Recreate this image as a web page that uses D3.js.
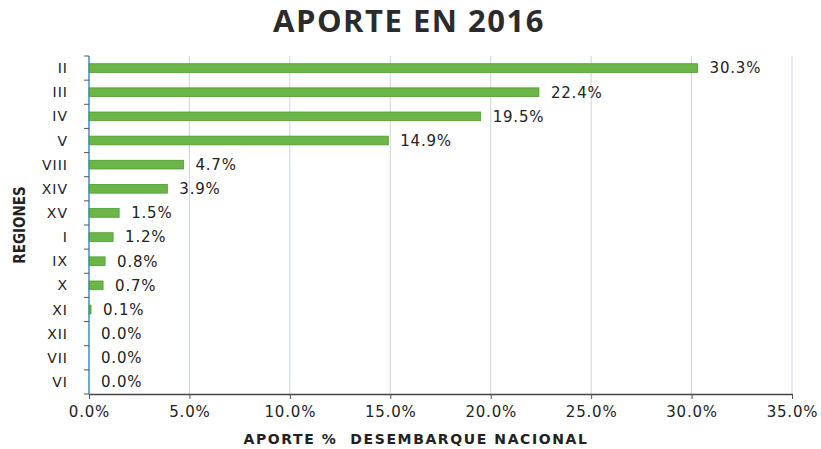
<!DOCTYPE html>
<html>
<head>
<meta charset="utf-8">
<script src="https://cdn.jsdelivr.net/npm/d3@7"></script>
<style>
  body { margin: 0; background: #fff; }
  text { font-family: "DejaVu Sans", sans-serif; }
</style>
</head>
<body>
<svg id="chart" width="821" height="449"></svg>
<script>
// regions, top to bottom
var regions = ["II", "III", "IV", "V", "VIII", "XIV", "XV", "I", "IX", "X", "XI", "XII", "VII", "VI"];
var aporte = [30.3, 22.4, 19.5, 14.9, 4.7, 3.9, 1.5, 1.2, 0.8, 0.7, 0.1, 0.0, 0.0, 0.0];
var xTicks = [0, 5, 10, 15, 20, 25, 30, 35];

var margin = {top: 56, right: 29, bottom: 55, left: 89},
    width = 821 - margin.left - margin.right,
    height = 449 - margin.top - margin.bottom;

var svg = d3.select("#chart");

// title
svg.append("text")
    .attr("x", 409)
    .attr("y", 32)
    .attr("text-anchor", "middle")
    .style("font-family", "'Open Sans', sans-serif")
    .style("font-weight", "bold")
    .style("font-size", "31px")
    .style("letter-spacing", "1.5px")
    .attr("fill", "#2b2b2b")
    .text("APORTE EN 2016");

var g = svg.append("g")
    .attr("transform", "translate(" + margin.left + "," + margin.top + ")");

var x = d3.scaleLinear().domain([0, 35]).range([0, width]);
var y = d3.scaleBand().domain(regions).range([0, height]).paddingInner(0.64).paddingOuter(0.32);

// grid lines
g.selectAll(".grid").data(xTicks.slice(1))
  .enter().append("line")
    .attr("x1", function(d) { return x(d); })
    .attr("x2", function(d) { return x(d); })
    .attr("y1", 0)
    .attr("y2", height)
    .attr("stroke", "#ccd2de")
    .attr("stroke-width", 1);

// bars
g.selectAll(".bar").data(aporte)
  .enter().append("rect")
    .attr("x", 0)
    .attr("y", function(d, i) { return y(regions[i]); })
    .attr("width", function(d) { return x(d); })
    .attr("height", y.bandwidth())
    .attr("fill", "#6cb548")
    .attr("stroke", "#4e9a34")
    .attr("stroke-width", 0.8);

// value labels
g.selectAll(".val").data(aporte)
  .enter().append("text")
    .attr("x", function(d) { return x(d) + 12; })
    .attr("y", function(d, i) { return y(regions[i]) + y.bandwidth() / 2; })
    .attr("dy", "0.36em")
    .style("font-size", "15px")
    .style("letter-spacing", "0.8px")
    .attr("fill", "#222")
    .text(function(d) { return d.toFixed(1) + "%"; });

// bottom axis
var xAxis = g.append("g")
    .attr("transform", "translate(0," + height + ")")
    .call(d3.axisBottom(x).tickValues(xTicks).tickSize(5).tickSizeOuter(0)
        .tickFormat(function(d) { return d.toFixed(1) + "%"; }));
xAxis.select(".domain").attr("stroke", "#444").attr("stroke-width", 1.5);
xAxis.selectAll(".tick line").attr("stroke", "#555");
xAxis.selectAll("text")
    .attr("y", 9)
    .attr("dy", "0.9em")
    .style("font-size", "15px")
    .style("letter-spacing", "0.8px")
    .style("font-family", "'DejaVu Sans', sans-serif")
    .attr("fill", "#222");

// left axis: ticks at band boundaries
var yAxis = g.append("g");
yAxis.append("line")
    .attr("x1", 0).attr("x2", 0)
    .attr("y1", 0).attr("y2", height)
    .attr("stroke", "#3f8fb5")
    .attr("stroke-width", 1.5);
var bounds = d3.range(regions.length + 1).map(function(i) { return i * height / regions.length; });
yAxis.selectAll(".ytick").data(bounds)
  .enter().append("line")
    .attr("x1", -5).attr("x2", 0)
    .attr("y1", function(d) { return d; })
    .attr("y2", function(d) { return d; })
    .attr("stroke", "#555");
yAxis.selectAll(".ylab").data(regions)
  .enter().append("text")
    .attr("x", -21)
    .attr("y", function(d) { return y(d) + y.bandwidth() / 2; })
    .attr("dy", "0.36em")
    .attr("text-anchor", "end")
    .style("font-size", "14px")
    .style("letter-spacing", "1px")
    .attr("fill", "#222")
    .text(function(d) { return d; });

// axis titles
svg.append("text")
    .attr("transform", "translate(25," + (margin.top + height / 2) + ") rotate(-90)")
    .attr("text-anchor", "middle")
    .style("font-family", "'Liberation Sans Narrow', 'DejaVu Sans Condensed', sans-serif")
    .style("font-weight", "bold")
    .style("font-size", "15px")
    .attr("fill", "#222")
    .text("REGIONES");

svg.append("text")
    .attr("x", 416)
    .attr("y", 444)
    .attr("text-anchor", "middle")
    .style("font-weight", "bold")
    .style("font-size", "14px")
    .style("letter-spacing", "1.6px")
    .attr("fill", "#222")
    .attr("xml:space", "preserve")
    .text("APORTE %  DESEMBARQUE NACIONAL");
</script>
</body>
</html>
